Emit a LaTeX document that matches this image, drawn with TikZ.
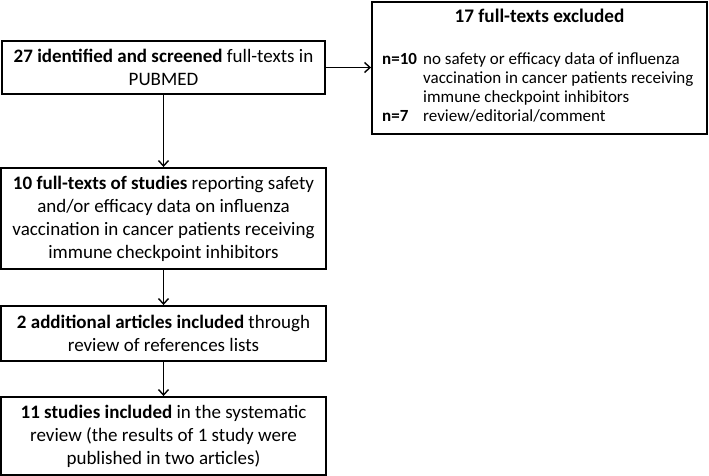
\documentclass[tikz,border=0pt]{standalone}
\usepackage{fontspec}
\setmainfont{Carlito}
\usetikzlibrary{arrows.meta}
\newcommand{\mainsz}{\fontsize{19}{23}\selectfont}
\newcommand{\titlesz}{\fontsize{19.2}{23}\selectfont}
\newcommand{\smallsz}{\fontsize{17}{18.7}\selectfont}
\begin{document}
\begin{tikzpicture}[x=1pt,y=-1pt,
  box/.style={draw, line width=1.9pt, inner sep=0pt, align=center, font=\mainsz},
  conn/.style={line width=1.7pt, -{Straight Barb[length=5.5pt,width=10pt,line width=1.4pt]}}]
\useasboundingbox (0,0) rectangle (709,476);
\node[box, minimum width=323pt, minimum height=53pt] (b1) at (163.5,67.5)
  {\mainsz\textbf{27 identified and screened} full-texts in\\PUBMED};
\node[box, minimum width=335pt, minimum height=132pt] (ex) at (539.5,68) {};
\node[inner sep=0pt, anchor=base] (ext) at (539.5,23) {\titlesz\bfseries 17 full-texts excluded};
\node[inner sep=0pt, anchor=base west, align=left] (exl) at (382,65)
  {\smallsz\begin{tabular}[t]{@{}p{41pt}@{}l@{}}
  \textbf{n=10} & no safety or efficacy data of influenza\\
   & vaccination in cancer patients receiving\\
   & immune checkpoint inhibitors\\
  \textbf{n=7} & review/editorial/comment
  \end{tabular}};
\node[box, minimum width=325pt, minimum height=101pt] (b2) at (163.5,218.5)
  {\mainsz\textbf{10 full-texts of studies} reporting safety\\and/or efficacy data on influenza\\vaccination in cancer patients receiving\\immune checkpoint inhibitors};
\node[box, minimum width=325pt, minimum height=55pt] (b3) at (163.5,333.5)
  {\mainsz\textbf{2 additional articles included} through\\review of references lists};
\node[box, minimum width=325pt, minimum height=78pt] (b4) at (163.5,436)
  {\mainsz\textbf{11 studies included} in the systematic\\review (the results of 1 study were\\published in two articles)};
\draw[conn] (b1.east) -- (ex.west |- b1.east);
\draw[conn] (b1.south) -- (b2.north);
\draw[conn] (b2.south) -- (b3.north);
\draw[conn] (b3.south) -- (b4.north);
\end{tikzpicture}
\end{document}
